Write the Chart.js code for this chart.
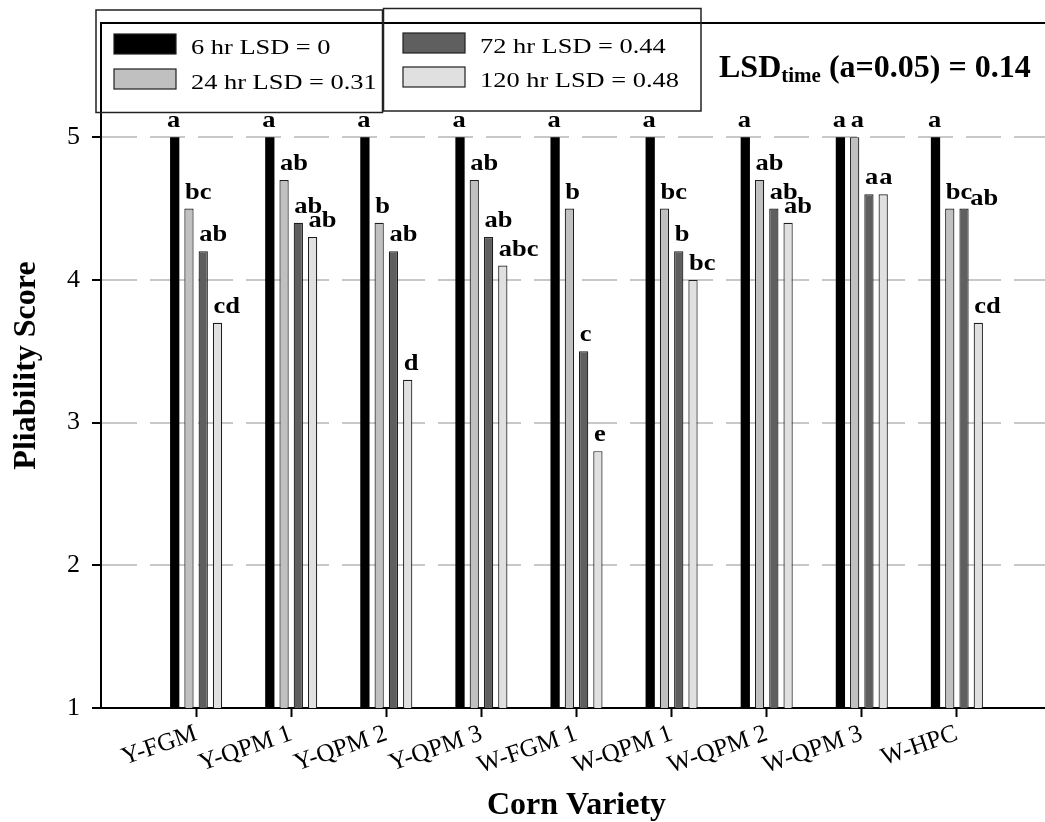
<!DOCTYPE html>
<html>
<head>
<meta charset="utf-8">
<script src="https://cdn.jsdelivr.net/npm/chart.js@4.4.1/dist/chart.umd.min.js"></script>
<style>
  html, body { margin: 0; padding: 0; background: #fff; overflow: hidden; }
  #wrap { width: 1060px; height: 822px; }
</style>
</head>
<body>
<div id="wrap"><canvas id="chart" width="1060" height="822"></canvas></div>
<script>
// Corn varieties on the x axis
const varieties = ['Y-FGM', 'Y-QPM 1', 'Y-QPM 2', 'Y-QPM 3', 'W-FGM 1', 'W-QPM 1', 'W-QPM 2', 'W-QPM 3', 'W-HPC'];

// Series names (soaking time with its LSD)
const seriesNames = ['6 hr LSD = 0', '24 hr LSD = 0.31', '72 hr LSD = 0.44', '120 hr LSD = 0.48'];

// Mean pliability scores per soaking time
const score6hr   = [5.0, 5.0, 5.0, 5.0, 5.0, 5.0, 5.0, 5.0, 5.0];
const score24hr  = [4.5, 4.7, 4.4, 4.7, 4.5, 4.5, 4.7, 5.0, 4.5];
const score72hr  = [4.2, 4.4, 4.2, 4.3, 3.5, 4.2, 4.5, 4.6, 4.5];
const score120hr = [3.7, 4.3, 3.3, 4.1, 2.8, 4.0, 4.4, 4.6, 3.7];

// Mean separation letters printed above each bar
const letters6hr   = ['a', 'a', 'a', 'a', 'a', 'a', 'a', 'a', 'a'];
const letters24hr  = ['bc', 'ab', 'b', 'ab', 'b', 'bc', 'ab', 'a', 'bc'];
const letters72hr  = ['ab', 'ab', 'ab', 'ab', 'c', 'b', 'ab', 'a', 'ab'];
const letters120hr = ['cd', 'ab', 'd', 'abc', 'e', 'bc', 'ab', 'a', 'cd'];

// Y axis tick values
const yTickValues = [1, 2, 3, 4, 5];

const FONT = '"Liberation Serif", "Times New Roman", serif';
const fills = ['#000000', '#c0c0c0', '#5f5f5f', '#e0e0e0'];

// one empty slot on each side so the groups sit one category in from the axes
const padded = arr => [null, ...arr, null];
const categoryLabels = ['', ...varieties, ''];

const allScores = [score6hr, score24hr, score72hr, score120hr];
const allLetters = [letters6hr, letters24hr, letters72hr, letters120hr];

const datasets = allScores.map((vals, i) => ({
  label: seriesNames[i],
  data: padded(vals),
  letters: padded(allLetters[i]),
  letterAlign: i === 0 ? 'center' : 'left',
  backgroundColor: fills[i],
  borderColor: i === 0 ? '#000000' : '#1e1e1e',
  borderWidth: i === 0 ? 0 : 1.2,
  categoryPercentage: 0.6,
  barPercentage: 0.65
}));

// Letters above bars; a label that would run into its left neighbour
// at the same height is pushed right and dropped a little
const barLetters = {
  id: 'barLetters',
  afterDatasetsDraw(chart) {
    const ctx = chart.ctx;
    const stretch = 1.15;
    ctx.save();
    ctx.fillStyle = '#000';
    ctx.font = 'bold 23px ' + FONT;
    ctx.textAlign = 'left';
    ctx.textBaseline = 'alphabetic';
    const last = {};
    chart.data.datasets.forEach((ds, di) => {
      const meta = chart.getDatasetMeta(di);
      meta.data.forEach((bar, i) => {
        const txt = ds.letters[i];
        if (!txt || ds.data[i] == null) return;
        const w = ctx.measureText(txt).width * stretch;
        let x = ds.letterAlign === 'center' ? bar.x - w / 2 - 1 : bar.x - 4;
        let y = bar.y - 10;
        const prev = last[i];
        if (prev && x < prev.right - 2 && Math.abs(prev.y - y) < 10) {
          x = prev.right - 2;
          y += 6;
        }
        last[i] = { right: x + w, y };
        ctx.save();
        ctx.translate(x, y);
        ctx.scale(stretch, 1);
        ctx.fillText(txt, 0, 0);
        ctx.restore();
      });
    });
    ctx.restore();
  }
};

// Frame lines, two legend boxes and the LSD note
const decorations = {
  id: 'decorations',
  afterDraw(chart) {
    const ctx = chart.ctx;
    const area = chart.chartArea;
    ctx.save();

    // top frame and left axis line
    ctx.strokeStyle = '#000';
    ctx.lineWidth = 2;
    ctx.setLineDash([]);
    ctx.beginPath();
    ctx.moveTo(area.left - 1, area.top);
    ctx.lineTo(area.right, area.top);
    ctx.moveTo(area.left, area.top);
    ctx.lineTo(area.left, area.bottom + 1);
    ctx.stroke();

    // legend boxes
    const groups = [
      { box: [96, 10, 286.5, 102.5], items: [0, 1], sx: 114, tx: 191, ys: [34, 69] },
      { box: [383.5, 8.5, 317.5, 102.5], items: [2, 3], sx: 403, tx: 480, ys: [33, 67] }
    ];
    const ds = chart.data.datasets;
    groups.forEach(g => {
      ctx.strokeStyle = '#222';
      ctx.lineWidth = 1.5;
      ctx.strokeRect(g.box[0], g.box[1], g.box[2], g.box[3]);
      g.items.forEach((di, k) => {
        const y = g.ys[k];
        ctx.fillStyle = ds[di].backgroundColor;
        ctx.fillRect(g.sx, y, 62, 20);
        ctx.strokeStyle = '#1e1e1e';
        ctx.lineWidth = 1.2;
        ctx.strokeRect(g.sx, y, 62, 20);
        ctx.fillStyle = '#000';
        ctx.font = '22px ' + FONT;
        ctx.textAlign = 'left';
        ctx.textBaseline = 'alphabetic';
        ctx.save();
        ctx.translate(g.tx, y + 19.5);
        ctx.scale(1.2, 1);
        ctx.fillText(ds[di].label, 0, 0);
        ctx.restore();
      });
    });

    // LSD for time note
    ctx.fillStyle = '#000';
    ctx.textAlign = 'left';
    ctx.textBaseline = 'alphabetic';
    let x = 719;
    ctx.font = 'bold 32px ' + FONT;
    ctx.fillText('LSD', x, 77);
    x += ctx.measureText('LSD').width;
    ctx.font = 'bold 21px ' + FONT;
    ctx.fillText('time', x, 82);
    x += ctx.measureText('time').width;
    ctx.font = 'bold 32px ' + FONT;
    ctx.fillText(' (a=0.05) = 0.14', x, 77);

    ctx.restore();
  }
};

new Chart(document.getElementById('chart'), {
  type: 'bar',
  data: { labels: categoryLabels, datasets },
  options: {
    responsive: false,
    animation: false,
    layout: { padding: { top: 23, right: 8, left: 0, bottom: 0 } },
    plugins: { legend: { display: false }, tooltip: { enabled: false } },
    scales: {
      x: {
        type: 'category',
        offset: false,
        grid: {
          offset: false,
          drawOnChartArea: false,
          drawTicks: true,
          tickLength: 9,
          tickWidth: 2,
          tickColor: c => (categoryLabels[c.index] === '' ? 'rgba(0,0,0,0)' : '#000')
        },
        border: { display: true, color: '#000', width: 2 },
        ticks: {
          autoSkip: false,
          minRotation: 19,
          maxRotation: 19,
          color: '#000',
          padding: 2,
          font: { family: FONT, size: 25 }
        },
        title: {
          display: true,
          text: 'Corn Variety',
          color: '#000',
          font: { family: FONT, size: 32, weight: 'bold' },
          padding: { top: 0, bottom: -3 }
        },
        afterFit: s => { s.height = 114; s.paddingLeft = 0; s.paddingRight = 0; }
      },
      y: {
        min: 1,
        max: 5.8,
        afterBuildTicks: s => { s.ticks = yTickValues.map(v => ({ value: v })); },
        grid: {
          color: c => (c.tick && c.tick.value === 1 ? 'rgba(0,0,0,0)' : '#c8c8c8'),
          lineWidth: 2,
          tickLength: 9,
          tickWidth: 2,
          tickColor: '#000'
        },
        border: { display: true, color: '#000', width: 2, dash: [35, 13] },
        ticks: {
          color: '#000',
          padding: 12,
          font: { family: FONT, size: 26 }
        },
        title: {
          display: true,
          text: 'Pliability Score',
          color: '#000',
          font: { family: FONT, size: 32, weight: 'bold' },
          padding: { top: 8, bottom: 0 }
        },
        afterFit: s => { s.width = 101; s.paddingTop = 0; s.paddingBottom = 0; }
      }
    }
  },
  plugins: [barLetters, decorations]
});
</script>
</body>
</html>
